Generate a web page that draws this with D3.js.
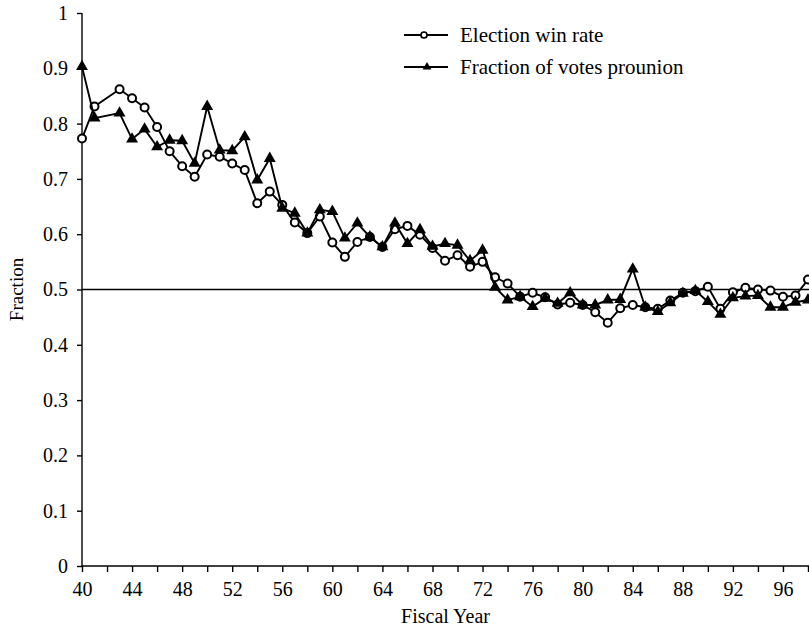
<!DOCTYPE html>
<html>
<head>
<meta charset="utf-8">
<script src="https://cdn.jsdelivr.net/npm/d3@7"></script>
<style>
  body { margin: 0; background: #fff; }
  svg { display: block; font-family: "Liberation Serif", "Times New Roman", serif; }
</style>
</head>
<body>
<div id="chart"></div>
<script>
// Data (fiscal year 42 is missing in both series)
var years = [40, 41, 43, 44, 45, 46, 47, 48, 49, 50, 51, 52, 53, 54, 55, 56, 57, 58, 59,
  60, 61, 62, 63, 64, 65, 66, 67, 68, 69, 70, 71, 72, 73, 74, 75, 76, 77, 78, 79,
  80, 81, 82, 83, 84, 85, 86, 87, 88, 89, 90, 91, 92, 93, 94, 95, 96, 97, 98];

var winRate = [0.773, 0.831, 0.862, 0.846, 0.829, 0.794, 0.750, 0.723, 0.704, 0.744,
  0.740, 0.728, 0.716, 0.656, 0.677, 0.653, 0.621, 0.602, 0.632, 0.585,
  0.559, 0.586, 0.595, 0.577, 0.609, 0.615, 0.599, 0.575, 0.552, 0.562,
  0.541, 0.550, 0.522, 0.511, 0.487, 0.494, 0.486, 0.473, 0.476, 0.472,
  0.459, 0.440, 0.466, 0.472, 0.468, 0.465, 0.480, 0.494, 0.497, 0.505,
  0.465, 0.495, 0.503, 0.500, 0.498, 0.487, 0.489, 0.518];

var prounion = [0.903, 0.810, 0.819, 0.772, 0.790, 0.758, 0.770, 0.769, 0.728, 0.831,
  0.752, 0.751, 0.776, 0.698, 0.737, 0.647, 0.638, 0.602, 0.644, 0.641,
  0.593, 0.620, 0.595, 0.577, 0.620, 0.583, 0.608, 0.578, 0.583, 0.580,
  0.552, 0.571, 0.504, 0.481, 0.487, 0.469, 0.484, 0.475, 0.494, 0.472,
  0.472, 0.481, 0.482, 0.537, 0.468, 0.460, 0.476, 0.493, 0.498, 0.478,
  0.455, 0.485, 0.488, 0.489, 0.468, 0.468, 0.477, 0.481];

var yTicks = [0, 0.1, 0.2, 0.3, 0.4, 0.5, 0.6, 0.7, 0.8, 0.9, 1];
var yTickLabels = ["0", "0.1", "0.2", "0.3", "0.4", "0.5", "0.6", "0.7", "0.8", "0.9", "1"];
var xTicks = d3.range(40, 100, 2);
var xLabelYears = [40, 44, 48, 52, 56, 60, 64, 68, 72, 76, 80, 84, 88, 92, 96];
var refLevel = 0.5;
var legendNames = ["Election win rate", "Fraction of votes prounion"];

// Graph information
var width = 809, height = 626;
var margin = {top: 13, right: 1, bottom: 60, left: 82};

var svg = d3.select('#chart')
  .append('svg')
    .attr('width', width)
    .attr('height', height);

var x = d3.scaleLinear()
  .domain([40, 98])
  .range([margin.left, 808]);

var y = d3.scaleLinear()
  .domain([0, 1])
  .range([height - margin.bottom, margin.top]);

var data = years.map(function(yr, i) {
  return {year: yr, win: winRate[i], pro: prounion[i]};
});

// X axis
var xAxis = svg.append("g")
  .attr("transform", `translate(0,${y(0)})`)
  .call(d3.axisBottom(x)
    .tickValues(xTicks)
    .tickSize(6)
    .tickFormat(function(d) { return xLabelYears.indexOf(d) >= 0 ? d : ""; }));
xAxis.select(".domain").attr("d", `M${margin.left},0H${width}`);

// Y axis
var yAxis = svg.append("g")
  .attr("transform", `translate(${margin.left},0)`)
  .call(d3.axisLeft(y)
    .tickValues(yTicks)
    .tickSize(5)
    .tickFormat(function(d, i) { return yTickLabels[i]; }));
yAxis.select(".domain").attr("d", `M0,${y(1)}V${y(0)}`);

svg.selectAll(".tick text")
  .style("font-size", "20px")
  .style("font-family", "Liberation Serif, serif")
  .attr("fill", "#000");
xAxis.selectAll(".tick text").attr("dy", "1.05em");
yAxis.selectAll(".tick text").attr("x", -14);
svg.selectAll(".domain, .tick line").attr("stroke", "#000").attr("stroke-width", 1.4);

// Reference line at 0.5
svg.append("line")
  .attr("x1", x(40)).attr("x2", width)
  .attr("y1", y(refLevel)).attr("y2", y(refLevel))
  .attr("stroke", "#000")
  .attr("stroke-width", 1.6);

// Lines
var winLine = d3.line()
  .x(d => x(d.year))
  .y(d => y(d.win));
var proLine = d3.line()
  .x(d => x(d.year))
  .y(d => y(d.pro));

svg.append("path")
  .datum(data)
  .attr("fill", "none")
  .attr("stroke", "#000")
  .attr("stroke-width", 1.9)
  .attr("d", winLine);

svg.selectAll(".win-dot")
  .data(data)
  .enter().append("circle")
    .attr("class", "win-dot")
    .attr("cx", d => x(d.year))
    .attr("cy", d => y(d.win))
    .attr("r", 4)
    .attr("fill", "#fff")
    .attr("stroke", "#000")
    .attr("stroke-width", 2);

svg.append("path")
  .datum(data)
  .attr("fill", "none")
  .attr("stroke", "#000")
  .attr("stroke-width", 1.9)
  .attr("d", proLine);

var tri = d3.symbol().type(d3.symbolTriangle).size(62);
svg.selectAll(".pro-dot")
  .data(data)
  .enter().append("path")
    .attr("class", "pro-dot")
    .attr("transform", d => `translate(${x(d.year)},${y(d.pro)})`)
    .attr("d", tri)
    .attr("fill", "#000");

// Legend
var legend = svg.append("g");
legendNames.forEach(function(name, i) {
  var ly = 35 + i * 32;
  legend.append("line")
    .attr("x1", 404).attr("x2", 448)
    .attr("y1", ly).attr("y2", ly)
    .attr("stroke", "#000")
    .attr("stroke-width", 1.8);
  if (i === 0) {
    legend.append("circle")
      .attr("cx", 424).attr("cy", ly).attr("r", 3)
      .attr("fill", "#fff").attr("stroke", "#000").attr("stroke-width", 1.7);
  } else {
    legend.append("path")
      .attr("transform", `translate(427,${ly})`)
      .attr("d", d3.symbol().type(d3.symbolTriangle).size(34))
      .attr("fill", "#000");
  }
  legend.append("text")
    .attr("x", 460)
    .attr("y", ly)
    .attr("dy", "0.35em")
    .style("font-size", "21px")
    .text(name);
});

// Axis titles
svg.append("text")
  .attr("x", (margin.left + width) / 2)
  .attr("y", 616)
  .attr("dy", "0.35em")
  .attr("text-anchor", "middle")
  .style("font-size", "20px")
  .text("Fiscal Year");

svg.append("text")
  .attr("transform", `translate(16,${y(0.5)}) rotate(-90)`)
  .attr("dy", "0.35em")
  .attr("text-anchor", "middle")
  .style("font-size", "19px")
  .text("Fraction");
</script>
</body>
</html>
